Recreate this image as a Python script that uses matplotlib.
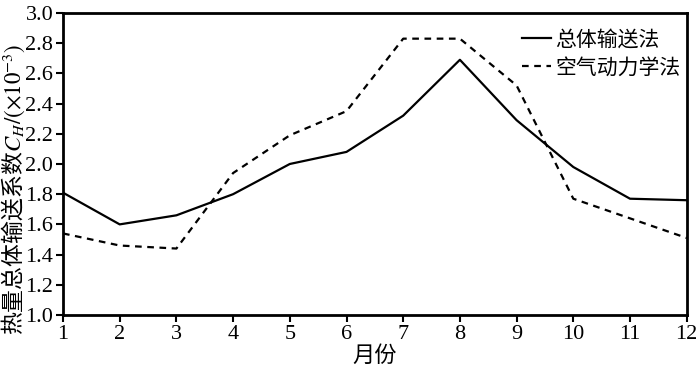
import matplotlib
matplotlib.use("Agg")
import matplotlib.pyplot as plt

months = list(range(1, 13))
bulk_transfer = [1.81, 1.60, 1.66, 1.80, 2.00, 2.08, 2.32, 2.69, 2.29, 1.98, 1.77, 1.76]
aerodynamic = [1.54, 1.46, 1.44, 1.94, 2.19, 2.35, 2.83, 2.83, 2.52, 1.77, 1.64, 1.51]
labels = ["总体输送法", "空气动力学法"]
yticks = [1.0, 1.2, 1.4, 1.6, 1.8, 2.0, 2.2, 2.4, 2.6, 2.8, 3.0]

cjk = ["Noto Sans CJK SC", "DejaVu Sans"]
plt.rcParams['mathtext.fontset'] = 'stix'

fig = plt.figure(figsize=(7.0, 3.71), dpi=100)
ax = fig.add_axes([0.09, 0.151, 0.891, 0.814])

ax.plot(months, bulk_transfer, color="black", lw=1.6, ls="-", label=labels[0])
ax.plot(months, aerodynamic, color="black", lw=1.6, ls=(0, (3, 2.5)), label=labels[1])

ax.set_xlim(1, 12)
ax.set_ylim(1.0, 3.0)
ax.set_xticks(months)
ax.set_yticks(yticks)
ax.set_yticklabels([f"{v:.1f}" for v in yticks])
for t in ax.get_xticklabels() + ax.get_yticklabels():
    t.set_fontfamily("Liberation Serif")
    t.set_fontsize(16)
ax.tick_params(direction="out", length=5, width=1.5, pad=2)
for s in ax.spines.values():
    s.set_linewidth(2)

ax.set_xlabel("月份", family=cjk, fontsize=16, labelpad=0)
ax.set_ylabel(r"热量总体输送系数$C_H/(\times10^{-3})$", family=cjk, fontsize=16.5)
ax.yaxis.set_label_coords(-0.057, 0.415)

leg = ax.legend(loc="upper right", frameon=False, prop={"family": cjk, "size": 15},
                handlelength=1.4, handletextpad=0.2, borderaxespad=0, borderpad=0.3,
                labelspacing=0.3, bbox_to_anchor=(1.0, 0.97))

fig.savefig("out.png", dpi=100)
